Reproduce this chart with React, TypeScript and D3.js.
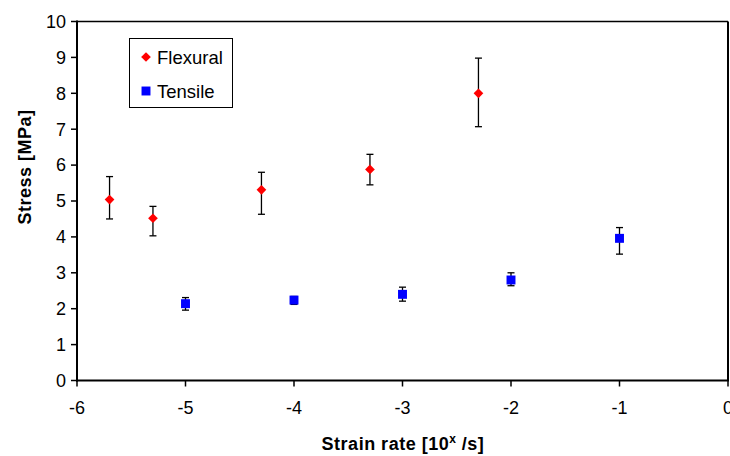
import React from "react";
import * as d3 from "d3";

const flexX = [-5.7, -5.3, -4.3, -3.3, -2.3];
const flexY = [5.04, 4.52, 5.31, 5.88, 8.0];
const flexLo = [4.5, 4.03, 4.63, 5.45, 7.07];
const flexHi = [5.68, 4.85, 5.8, 6.3, 8.98];

const tensX = [-5, -4, -3, -2, -1];
const tensY = [2.14, 2.24, 2.4, 2.8, 3.96];
const tensLo = [1.96, 2.12, 2.21, 2.64, 3.52];
const tensHi = [2.31, 2.34, 2.6, 3.0, 4.26];

const xTicks = [-6, -5, -4, -3, -2, -1, 0];
const yTicks = [0, 1, 2, 3, 4, 5, 6, 7, 8, 9, 10];

export default function App() {
  const W = 730, H = 456;
  const L = 77, R = 728, T = 21.5, B = 380.5;
  const x = d3.scaleLinear().domain([-6, 0]).range([L, R]);
  const y = d3.scaleLinear().domain([0, 10]).range([B, T]);
  const font = "'Liberation Sans', Arial, sans-serif";
  const diamond = d3.symbol().type(d3.symbolDiamond2).size(60)()!;
  const square = d3.symbol().type(d3.symbolSquare).size(80)()!;
  const cap = 3.5;

  return (
    <svg width={W} height={H} style={{ position: "absolute", left: 0, top: 0 }} fontFamily={font}>
      <rect width={W} height={H} fill="#fff" />
      {/* frame */}
      <line x1={L} x2={R} y1={T} y2={T} stroke="#000" strokeWidth={1.5} />
      <line x1={R} x2={R} y1={T} y2={B} stroke="#000" strokeWidth={2} />
      <line x1={L} x2={L} y1={T - 1} y2={B + 1} stroke="#000" strokeWidth={2} />
      <line x1={L - 1} x2={R + 1} y1={B} y2={B} stroke="#000" strokeWidth={2} />
      {yTicks.map((t) => (
        <g key={"y" + t}>
          <line x1={L - 6} x2={L} y1={y(t)} y2={y(t)} stroke="#000" strokeWidth={1.5} />
          <text x={L - 11} y={y(t)} dy="0.35em" textAnchor="end" fontSize={18}>{t}</text>
        </g>
      ))}
      {xTicks.map((t) => (
        <g key={"x" + t}>
          <line x1={x(t)} x2={x(t)} y1={B} y2={B + 6} stroke="#000" strokeWidth={1.5} />
          <text x={x(t)} y={414} textAnchor="middle" fontSize={18}>{t === 0 ? "0" : "-" + Math.abs(t)}</text>
        </g>
      ))}
      <text x={403} y={450} textAnchor="middle" fontSize={18} fontWeight="bold" letterSpacing={0.5}>
        Strain rate [10<tspan dy={-7} fontSize={12}>x</tspan><tspan dy={7}> /s]</tspan>
      </text>
      <text transform={`translate(31,167) rotate(-90)`} textAnchor="middle" fontSize={18} fontWeight="bold" letterSpacing={0.5}>Stress [MPa]</text>

      {/* error bars */}
      {flexX.map((v, i) => (
        <g key={"fe" + i} stroke="#000" strokeWidth={1.3}>
          <line x1={x(v)} x2={x(v)} y1={y(flexLo[i])} y2={y(flexHi[i])} />
          <line x1={x(v) - cap} x2={x(v) + cap} y1={y(flexLo[i])} y2={y(flexLo[i])} />
          <line x1={x(v) - cap} x2={x(v) + cap} y1={y(flexHi[i])} y2={y(flexHi[i])} />
        </g>
      ))}
      {tensX.map((v, i) => (
        <g key={"te" + i} stroke="#000" strokeWidth={1.3}>
          <line x1={x(v)} x2={x(v)} y1={y(tensLo[i])} y2={y(tensHi[i])} />
          <line x1={x(v) - cap} x2={x(v) + cap} y1={y(tensLo[i])} y2={y(tensLo[i])} />
          <line x1={x(v) - cap} x2={x(v) + cap} y1={y(tensHi[i])} y2={y(tensHi[i])} />
        </g>
      ))}
      {flexX.map((v, i) => (
        <path key={"f" + i} d={diamond} transform={`translate(${x(v)},${y(flexY[i])})`} fill="#ff0000" />
      ))}
      {tensX.map((v, i) => (
        <path key={"t" + i} d={square} transform={`translate(${x(v)},${y(tensY[i])})`} fill="#0000ff" />
      ))}

      {/* legend */}
      <rect x={129.5} y={38.5} width={103} height={69} fill="#fff" stroke="#000" strokeWidth={1} />
      <path d={diamond} transform="translate(146,57)" fill="#ff0000" />
      <text x={157} y={63.5} fontSize={18.5}>Flexural</text>
      <path d={square} transform="translate(146,91)" fill="#0000ff" />
      <text x={157} y={97.5} fontSize={18.5}>Tensile</text>
    </svg>
  );
}
